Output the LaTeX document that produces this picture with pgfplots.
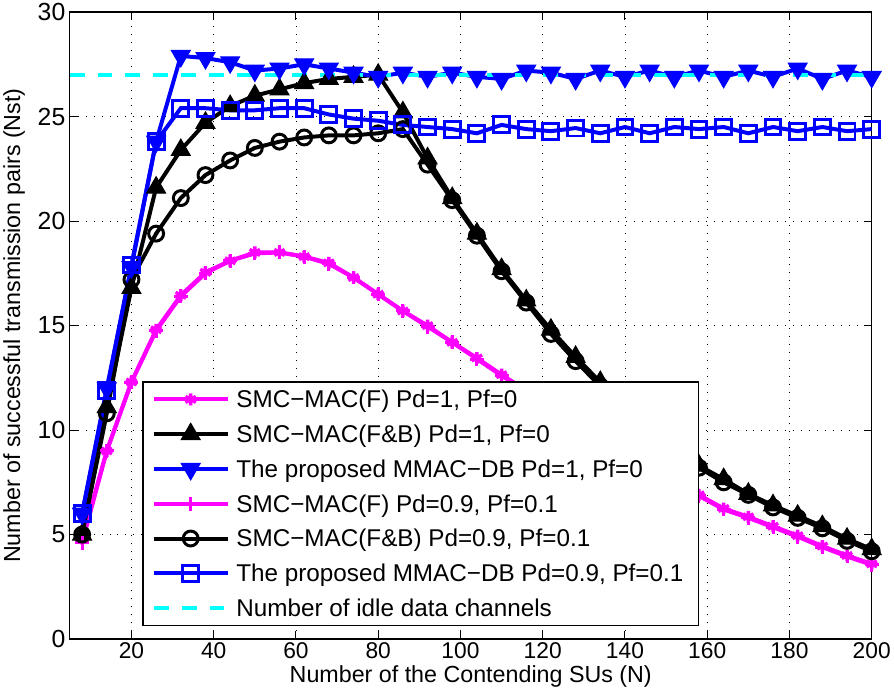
\documentclass[border=0pt]{standalone}
\usepackage{pgfplots}
\pgfplotsset{compat=1.18}
\usepackage{fontspec}
\setmainfont{Liberation Sans}
\definecolor{mmag}{RGB}{255,0,255}
\definecolor{mblue}{RGB}{0,0,255}
\definecolor{mcyan}{RGB}{0,255,255}
\begin{document}
\begin{tikzpicture}
\begin{axis}[
 scale only axis, width=807bp, height=631bp,
 xmin=5, xmax=200, ymin=0, ymax=30,
 xtick={20,40,...,200}, ytick={0,5,...,30},
 tick align=inside, xtick pos=both, ytick pos=both,
 major tick length=8bp,
 grid=major, grid style={black, line width=0.9bp, dash pattern=on 1bp off 7bp},
 axis line style={line width=1.3bp},
 every tick/.style={black, line width=1bp},
 /pgf/number format/assume math mode=true,
 ticklabel style={font=\fontsize{23}{27}\selectfont},
 yticklabel style={font=\fontsize{25}{29}\selectfont, xshift=-1bp},
 label style={font=\fontsize{23.5}{28}\selectfont},
 ylabel shift=6bp,
 xlabel={Number of the Contending SUs (N)},
 ylabel={Number of successful transmission pairs (Nst)},
 legend style={at={(0.0905,0.0207)}, anchor=south west, font=\fontsize{24.5}{29}\selectfont,
   draw=black, line width=1.3bp, inner xsep=9bp, inner ysep=0bp,
   nodes={inner ysep=6bp, inner xsep=6bp, text height=20bp, text depth=3bp}, row sep=0pt},
 legend cell align=left,
 legend image code/.code={\draw[mark repeat=2,mark phase=2] plot coordinates {(0bp,0bp) (37bp,0bp) (75bp,0bp)};},
]
% SMC-MAC(F) Pd=1
\addplot[color=mmag, line width=4bp, mark=asterisk, mark size=6bp, mark options={line width=3.5bp}] coordinates {
(8,4.8)(14,9.0)(20,12.3)(26,14.8)(32,16.45)(38,17.55)(44,18.1)(50,18.5)(56,18.5)(62,18.3)(68,18.0)(74,17.3)(80,16.5)(86,15.7)(92,15.0)(98,14.2)(104,13.45)(110,12.65)(116,11.9)(122,11.1)(128,10.3)(134,9.5)(140,8.8)(146,8.1)(152,7.5)(158,6.9)(164,6.25)(170,5.85)(176,5.4)(182,4.95)(188,4.45)(194,4.0)(200,3.6)};
\addlegendentry{SMC−MAC(F) Pd=1, Pf=0}
% SMC-MAC(F&B) Pd=1
\addplot[color=black, line width=4bp, mark=triangle*, mark size=11bp, mark options={line width=1bp, fill=black}] coordinates {
(8,5.0)(14,11.1)(20,16.8)(26,21.6)(32,23.4)(38,24.7)(44,25.5)(50,26.0)(56,26.3)(62,26.6)(68,26.8)(74,26.9)(80,27.0)(86,25.2)(92,23.0)(98,21.1)(104,19.4)(110,17.7)(116,16.2)(122,14.8)(128,13.5)(134,12.3)(140,11.2)(146,10.1)(152,9.1)(158,8.3)(164,7.65)(170,6.95)(176,6.4)(182,5.9)(188,5.4)(194,4.8)(200,4.3)};
\addlegendentry{SMC−MAC(F\&B) Pd=1, Pf=0}
% MMAC-DB Pd=1
\addplot[color=mblue, line width=4bp, mark=triangle*, mark size=11bp, mark options={line width=1bp, fill=mblue, rotate=180}] coordinates {
(8,6.0)(14,12.0)(20,17.8)(26,23.8)(32,27.9)(38,27.8)(44,27.6)(50,27.2)(56,27.3)(62,27.5)(68,27.3)(74,27.1)(80,26.9)(86,27.1)(92,26.9)(98,27.1)(104,26.9)(110,26.8)(116,27.2)(122,27.1)(128,26.8)(134,27.2)(140,26.9)(146,27.2)(152,26.9)(158,27.2)(164,26.9)(170,27.2)(176,26.9)(182,27.3)(188,26.8)(194,27.2)(200,26.9)};
\addlegendentry{The proposed MMAC−DB Pd=1, Pf=0}
% SMC-MAC(F) Pd=0.9
\addplot[color=mmag, line width=4bp, mark=+, mark size=7bp, mark options={line width=3bp}] coordinates {
(8,4.6)(14,9.0)(20,12.3)(26,14.75)(32,16.4)(38,17.5)(44,18.1)(50,18.45)(56,18.5)(62,18.3)(68,17.95)(74,17.3)(80,16.5)(86,15.7)(92,14.95)(98,14.2)(104,13.4)(110,12.6)(116,11.85)(122,11.05)(128,10.3)(134,9.5)(140,8.8)(146,8.1)(152,7.45)(158,6.85)(164,6.2)(170,5.8)(176,5.35)(182,4.9)(188,4.4)(194,3.95)(200,3.55)};
\addlegendentry{SMC−MAC(F) Pd=0.9, Pf=0.1}
% SMC-MAC(F&B) Pd=0.9
\addplot[color=black, line width=4bp, mark=o, mark size=7.5bp, mark options={line width=3bp}] coordinates {
(8,5.0)(14,10.8)(20,17.2)(26,19.4)(32,21.1)(38,22.2)(44,22.9)(50,23.5)(56,23.8)(62,24.0)(68,24.1)(74,24.1)(80,24.2)(86,24.4)(92,22.7)(98,21.0)(104,19.3)(110,17.6)(116,16.1)(122,14.6)(128,13.3)(134,12.1)(140,11.0)(146,10.0)(152,9.0)(158,8.2)(164,7.5)(170,6.9)(176,6.3)(182,5.8)(188,5.3)(194,4.7)(200,4.2)};
\addlegendentry{SMC−MAC(F\&B) Pd=0.9, Pf=0.1}
% MMAC-DB Pd=0.9
\addplot[color=mblue, line width=4bp, mark=square, mark size=8bp, mark options={line width=3bp}] coordinates {
(8,6.0)(14,11.9)(20,17.9)(26,23.8)(32,25.4)(38,25.4)(44,25.3)(50,25.3)(56,25.4)(62,25.4)(68,25.1)(74,24.9)(80,24.8)(86,24.6)(92,24.5)(98,24.4)(104,24.2)(110,24.6)(116,24.4)(122,24.3)(128,24.45)(134,24.2)(140,24.5)(146,24.2)(152,24.5)(158,24.4)(164,24.5)(170,24.2)(176,24.5)(182,24.3)(188,24.5)(194,24.3)(200,24.4)};
\addlegendentry{The proposed MMAC−DB Pd=0.9, Pf=0.1}
% idle channels
\addplot[color=mcyan, line width=4bp, dash pattern=on 15bp off 13bp] coordinates {(5,27)(200,27)};
\addlegendentry{Number of idle data channels}
\end{axis}
\end{tikzpicture}
\end{document}
